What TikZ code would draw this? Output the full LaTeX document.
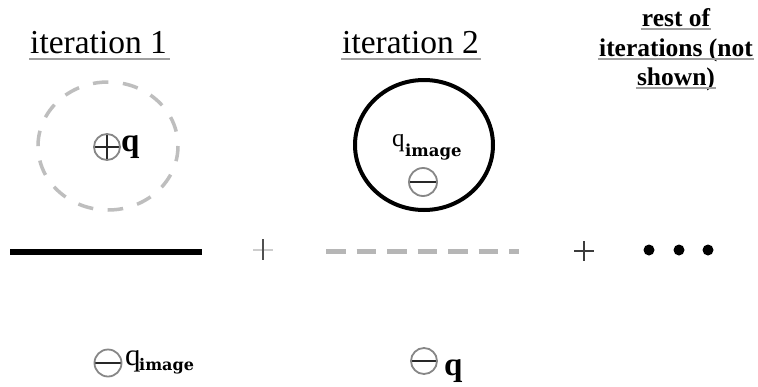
\documentclass[tikz,border=0pt]{standalone}
\usepackage{fontspec}
\setmainfont{Liberation Serif}
\newfontfamily\dvs{DejaVu Serif}
\usetikzlibrary{shapes.geometric}
\definecolor{dashgray}{RGB}{190,190,190}
\definecolor{ulgray}{RGB}{160,160,160}
\definecolor{signgray}{RGB}{135,135,135}
\definecolor{bargray}{RGB}{40,40,40}
\definecolor{lightplus}{RGB}{205,205,205}
\definecolor{darkplus}{RGB}{80,80,80}
\definecolor{plustwo}{RGB}{60,60,60}
\definecolor{linegray}{RGB}{182,182,182}
\tikzset{
  title/.style={inner sep=0pt, anchor=base west, font=\fontsize{33.5}{36}\selectfont},
  resttext/.style={inner sep=0pt, anchor=base, font=\fontsize{25.5}{28}\selectfont\bfseries},
  uline/.style={draw=ulgray, line width=2pt},
  signcirc/.style={circle, draw=signgray, line width=1.8pt, minimum size=#1, inner sep=0pt},
  minusbar/.style={path picture={\draw[bargray, line width=2.4pt] (path picture bounding box.west) -- (path picture bounding box.east);}},
  plusbar/.style={path picture={\draw[bargray, line width=1.8pt] (path picture bounding box.west) -- (path picture bounding box.east);
      \draw[bargray, line width=1.8pt] (path picture bounding box.north) -- (path picture bounding box.south);}},
  qtext/.style={inner sep=0pt, anchor=base west},
  subtext/.style={inner sep=0pt, anchor=base west, font=\dvs\fontsize{16.5}{18}\selectfont\bfseries},
  dotmark/.style={circle, fill=black, inner sep=0pt, minimum size=11pt}
}
\begin{document}
\begin{tikzpicture}[x=1pt,y=-1pt]
\useasboundingbox[fill=white] (0,0) rectangle (758,386);

% titles
\node[title] (it1) at (30,53) {iteration 1};
\draw[uline] ([xshift=-1pt,yshift=-6pt]it1.base west) -- ([xshift=3pt,yshift=-6pt]it1.base east);
\node[title] (it2) at (342,53) {iteration 2};
\draw[uline] ([xshift=-1pt,yshift=-6pt]it2.base west) -- ([xshift=2pt,yshift=-6pt]it2.base east);

\node[resttext] (r1) at (676,26) {rest of};
\node[resttext] (r2) at (676,56) {iterations (not};
\node[resttext] (r3) at (676,85) {shown)};
\foreach \n in {r1,r2,r3}{
  \draw[uline] ([xshift=-1pt,yshift=-2.5pt]\n.base west) -- ([xshift=1pt,yshift=-2.5pt]\n.base east);
}

% big circles
\node[ellipse, draw=dashgray, line width=3.5pt, dash pattern=on 15.5pt off 14.6pt, dash phase=15.5pt,
      minimum width=140pt, minimum height=128pt, inner sep=0pt] (c1) at (108,146) {};
\node[ellipse, draw=black, line width=4pt, minimum width=138pt, minimum height=130pt, inner sep=0pt] (c2) at (424,145) {};

% charges in circles
\node[signcirc=26pt, plusbar] (p1) at (107,147) {};
\node[qtext, font=\fontsize{33}{36}\selectfont\bfseries] (q1) at (121,151) {q};

\node[qtext, font=\fontsize{25}{28}\selectfont] (q2) at (392,146.5) {q};
\node[subtext] (s2) at (405,156) {image};
\node[signcirc=28pt, minusbar] (m2) at (423,182) {};

% line row
\coordinate (bl1) at (10,252);
\coordinate (bl2) at (202,252);
\draw[black, line width=6pt] (bl1) -- (bl2);

\coordinate (pa) at (263,250);
\draw[lightplus, line width=2pt] ([xshift=-10pt]pa) -- ([xshift=10pt]pa);
\draw[darkplus, line width=2pt] ([yshift=11pt]pa) -- ([yshift=-10pt]pa);

\coordinate (dl1) at (326,251.5);
\coordinate (dl2) at (519,251.5);
\draw[linegray, line width=4.5pt, dash pattern=on 19.5pt off 11pt] (dl1) -- (dl2);

\coordinate (pb) at (584,251);
\draw[plustwo, line width=2.2pt] ([xshift=-10pt]pb) -- ([xshift=10pt]pb);
\draw[plustwo, line width=2.2pt] ([yshift=10pt]pb) -- ([yshift=-10pt]pb);

\node[dotmark] (d1) at (649,250) {};
\node[dotmark] (d2) at (679,250) {};
\node[dotmark] (d3) at (708,250) {};

% image charges below
\node[signcirc=27pt, minusbar] (m3) at (108,363) {};
\node[qtext, font=\fontsize{31}{34}\selectfont] (q3) at (125,365) {q};
\node[subtext, font=\dvs\fontsize{16}{18}\selectfont\bfseries] (s3) at (139,370) {image};

\node[signcirc=26pt, minusbar] (m4) at (424,361) {};
\node[qtext, font=\fontsize{33}{36}\selectfont\bfseries] (q4) at (444,375) {q};
\end{tikzpicture}
\end{document}
